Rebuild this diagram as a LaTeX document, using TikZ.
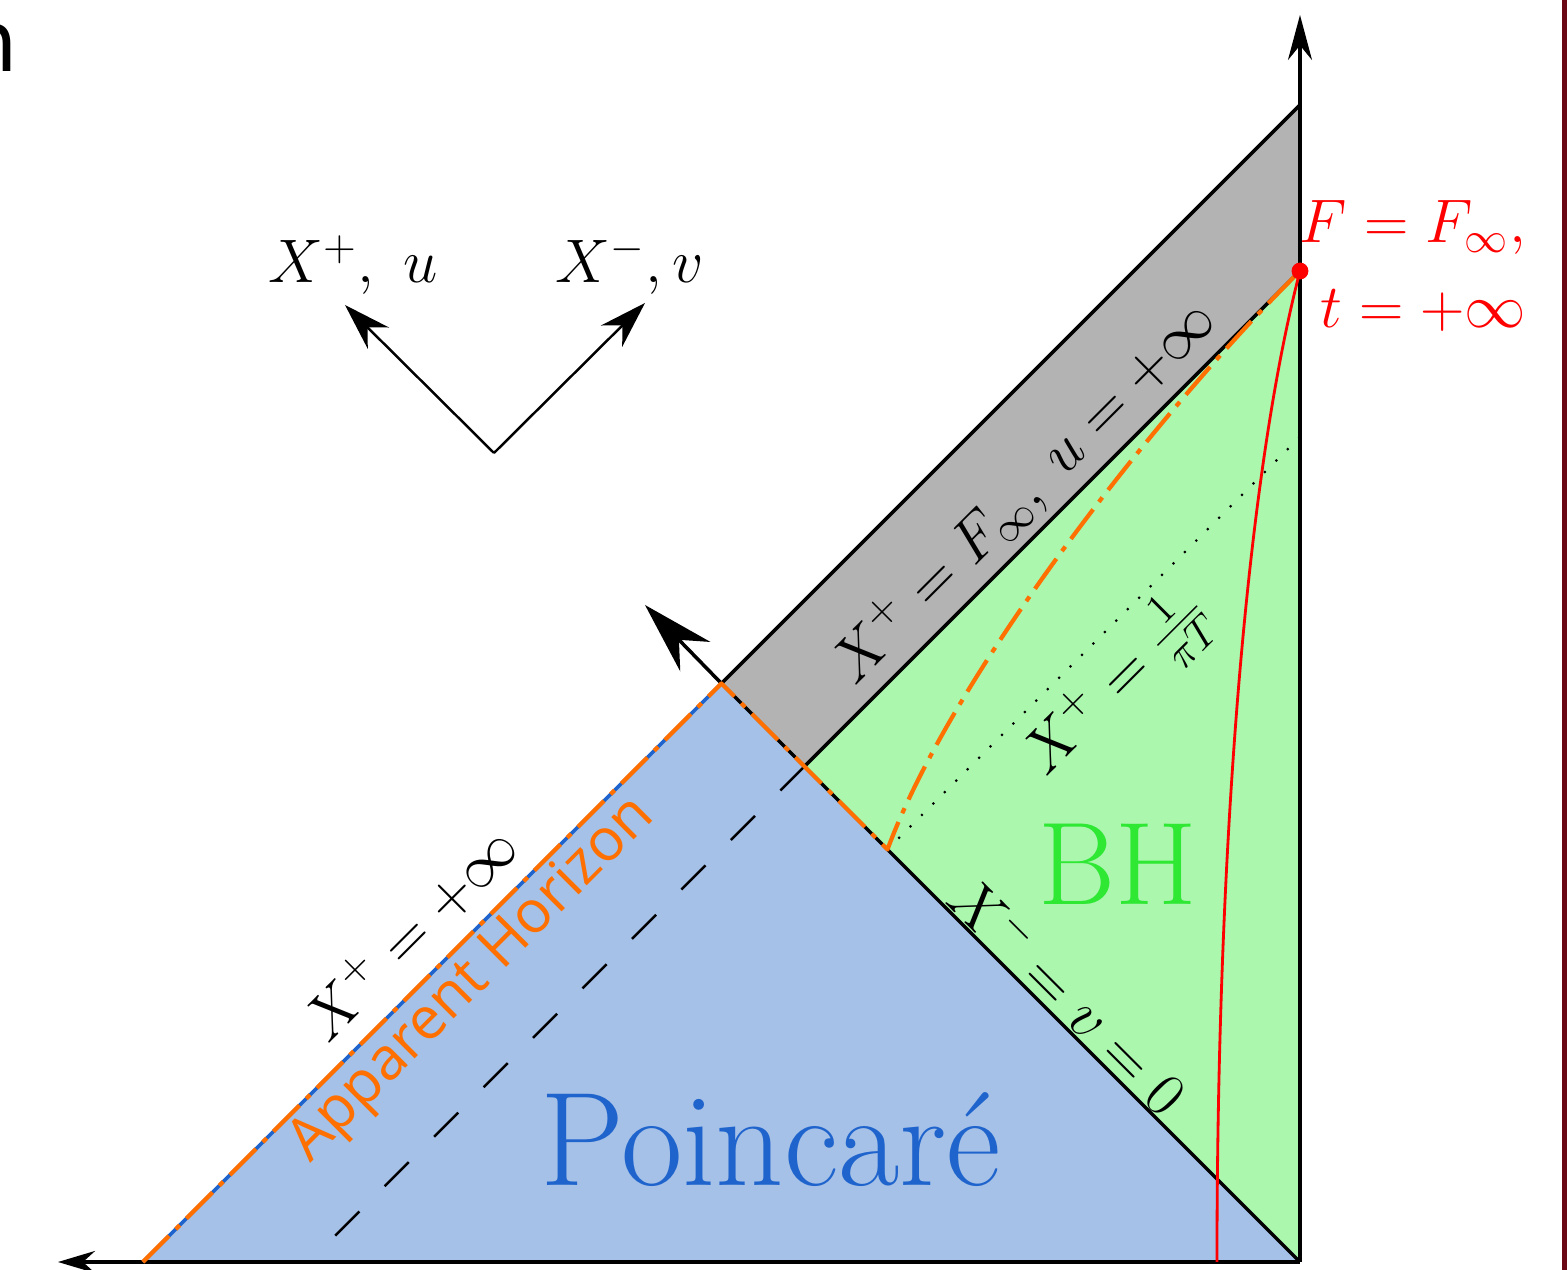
\RequirePackage{fix-cm}
\documentclass[tikz,border=0pt]{standalone}
\usepackage{fontspec}
\newfontfamily\ahfont{Open Sans}
\newfontfamily\cutfont{DejaVu Sans}
\usetikzlibrary{arrows.meta}
\definecolor{poinc}{RGB}{165,193,232}
\definecolor{bhfill}{RGB}{171,247,174}
\definecolor{stripe}{RGB}{179,179,179}
\definecolor{horizon}{RGB}{255,112,0}
\definecolor{poinctext}{RGB}{31,100,204}
\definecolor{bhtext}{RGB}{46,232,52}
\definecolor{frame}{RGB}{105,8,20}
\begin{document}
\begin{tikzpicture}[line join=round, >={Stealth[length=4.5mm,width=2.4mm]},
	edge/.style={line width=1pt},
	big/.style={font=\fontsize{17.5}{24}\selectfont},
	ahline/.style={draw=horizon, line width=1.2pt, dash pattern=on 10.5pt off 2.7pt on 1.6pt off 2.7pt}]
	\useasboundingbox (-13,-0.08) rectangle (2.67,12.62);
	\path (0,0)coordinate(O)(-11.57,0)coordinate(A)(-5.785,5.785)coordinate(P)(0,11.57)coordinate(T)
	(0,9.91)coordinate(R)(-4.955,4.955)coordinate(Q)(-9.91,0)coordinate(D)(-4.125,4.125)coordinate(K)
	(0,8.25)coordinate(S)(-8.06,8.09)coordinate(C);
	\fill[poinc](A)--(P)--(O)--cycle;
	\fill[bhfill](Q)--(R)--(O)--cycle;
	\fill[stripe](P)--(T)--(R)--(Q)--cycle;
	\draw[edge](P)--(T)(R)--(Q)(P)--(O);
	\draw[edge,->](O)--(0,12.47);
	\draw[edge,-{Stealth[length=3.7mm,width=2.2mm]}](O)--(-12.42,0);
	\draw[edge,-{Stealth[length=7.2mm,width=4.2mm]}](P)--(-6.55,6.57);
	\draw[line width=0.7pt,dash pattern=on 9.7pt off 10.2pt](Q)--(D);
	\draw[line width=0.6pt,dash pattern=on 0.6pt off 4pt](S)--(K);
	\draw[poinctext,line width=1pt](A)--(P);
	\draw[ahline](A)--(P)--(K) .. controls (-3.5,5.82) and (-1.5,8.42) .. (R);
	\draw[red,line width=0.8pt](R) .. controls (-0.55,7.8) and (-0.83,4) .. (-0.83,0);
	\fill[red](R)circle(2.4pt);
	\foreach \e in {(-9.55,9.57),(-6.55,9.59)}
	\draw[line width=0.7pt,-{Stealth[length=4.7mm,width=3mm]}](C)--\e;
	\node[big] (xu) at (-9.47,9.97) {$X^+,\ u$};
	\node[big] (xv) at (-6.70,9.97) {$X^-,v$};
	\node[big,text=red,align=right,anchor=east,inner sep=0pt] (ft) at (2.27,9.96) {$F=F_\infty,$\\$t=+\infty$};
	\node[big,rotate=45] (finf) at (-2.75,7.70) {$X^+=F_\infty,\; u=+\infty$};
	\node[big,rotate=45] (temp) at (-1.82,5.77) {$X^+=\frac{1}{\pi T}$};
	\node[big,rotate=-45] (vzero) at (-2.30,2.68) {$X^-=v=0$};
	\node[big,rotate=45] (pinf) at (-8.90,3.30) {$X^+=+\infty$};
	\node[rotate=45,text=horizon,font=\ahfont\fontsize{16.8}{20}\selectfont] (ah) at (-8.27,2.82) {Apparent Horizon};
	\node[text=poinctext,font=\fontsize{38}{44}\selectfont] (pc) at (-5.29,1.22) {Poincaré};
	\node[text=bhtext,font=\fontsize{33.5}{38}\selectfont] (bh) at (-1.82,3.98) {BH};
	\node[font=\cutfont\fontsize{24}{28}\selectfont,anchor=base east,inner sep=0pt] (nn) at (-12.81,11.90) {n};
	\draw[frame,line width=0.05cm](2.645,-0.08)--(2.645,12.62);
\end{tikzpicture}
\end{document}
